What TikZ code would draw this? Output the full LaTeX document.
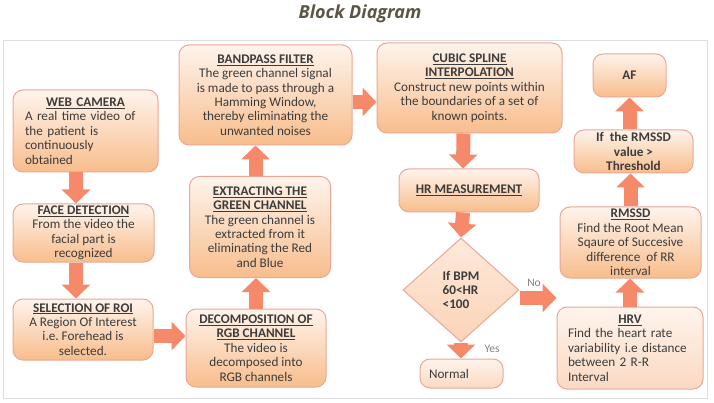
\documentclass[tikz,border=0pt]{standalone}
\usepackage{fontspec}
\setmainfont{Carlito}
\newfontfamily\titlefont{Open Sans}
\usetikzlibrary{shapes.geometric,arrows.meta}
\setlength{\parindent}{0pt}
\frenchspacing

\definecolor{boxtop}{HTML}{FEF4EC}
\definecolor{boxbot}{HTML}{F8BD8C}
\definecolor{palebot}{HTML}{FBD9C2}
\definecolor{boxline}{HTML}{EBA796}
\definecolor{flowc}{HTML}{F7896B}
\definecolor{txt}{HTML}{3C3C3C}
\definecolor{titlec}{HTML}{5C5545}
\definecolor{panelc}{HTML}{DEDEDE}
\newcommand{\blockhead}[1]{\underline{\textbf{#1}}}

\begin{document}
\begin{tikzpicture}[x=1pt,y=-1pt,
  block/.style={draw=boxline,line width=1pt,rounded corners=10pt,top color=boxtop,bottom color=boxbot,
    text=txt,align=center,inner sep=0pt,font=\fontsize{13.2}{14.4}\selectfont},
  paleblock/.style={block,bottom color=palebot},
  flow/.style={draw=flowc,line width=14pt,-{Triangle[width=28pt,length=14pt]}},
  note/.style={text=gray,font=\fontsize{11.5}{13}\selectfont}]
  \useasboundingbox (0,0) rectangle (714,403);
  \draw[panelc,line width=1pt] (3,41) rectangle (707,398);
  \node[font=\titlefont\bfseries\itshape\fontsize{18}{21}\selectfont,text=titlec] (title) at (360,14) {Block Diagram};

  % left column
  \node[block,minimum width=145pt,minimum height=82pt,text width=121pt,align=left] (webcam) at (85.5,131)
    {\makebox[\hsize]{\blockhead{WEB CAMERA}}\\A real time video of\\the patient is\\continuously\\obtained};
  \node[block,minimum width=141pt,minimum height=58pt] (face) at (83.5,233)
    {\blockhead{FACE DETECTION}\\From the video the\\facial part is\\recognized};
  \node[block,minimum width=140pt,minimum height=61pt] (roi) at (83,329.5)
    {\blockhead{SELECTION OF ROI}\\A Region Of Interest\\i.e. Forehead is\\selected.};

  % second column
  \node[block,minimum width=140pt,minimum height=78pt] (decomp) at (256,348)
    {\blockhead{DECOMPOSITION OF}\\\blockhead{RGB CHANNEL}\\The video is\\decomposed into\\RGB channels};
  \node[block,minimum width=141pt,minimum height=101pt] (extract) at (260,227)
    {\blockhead{EXTRACTING THE}\\\blockhead{GREEN CHANNEL}\\The green channel is\\extracted from it\\eliminating the Red\\and Blue};
  \node[block,minimum width=173pt,minimum height=100pt] (bandpass) at (265.5,95)
    {\blockhead{BANDPASS FILTER}\\The green channel signal\\is made to pass through a\\Hamming Window,\\thereby eliminating the\\unwanted noises};

  % third column
  \node[block,minimum width=185pt,minimum height=90pt] (cubic) at (469.5,88)
    {\blockhead{CUBIC SPLINE}\\\blockhead{INTERPOLATION}\\Construct new points within\\the boundaries of a set of\\known points.};
  \node[block,minimum width=140pt,minimum height=43pt] (hrmeas) at (469,190.5) {\blockhead{HR MEASUREMENT}};
  \node[diamond,draw=boxline,line width=1pt,top color=boxtop!60!palebot,bottom color=palebot!80!boxbot,
    text=txt,minimum width=116pt,minimum height=104pt,inner sep=0pt,align=left,
    font=\fontsize{13.2}{14.4}\selectfont\bfseries] (bpm) at (461,290) {If BPM\\60<HR\\<100};
  \node[paleblock,minimum width=83pt,minimum height=29pt,text width=65pt,align=left] (normal) at (461.5,373.5) {Normal};

  % right column
  \node[paleblock,minimum width=146pt,minimum height=82pt,text width=124pt,align=left] (hrv) at (630,348)
    {\makebox[\hsize]{\blockhead{HRV}}\\Find the heart rate\\variability i.e distance\\between 2 R-R\\Interval};
  \node[block,minimum width=141pt,minimum height=71pt] (rmssd) at (630.5,242.5)
    {\blockhead{RMSSD}\\Find the Root Mean\\Sqaure of Succesive\\difference\ \ of RR\\interval};
  \node[block,minimum width=119pt,minimum height=43pt,font=\fontsize{13.2}{14.4}\selectfont\bfseries] (thresh) at (633.5,151.5)
    {If\ \ the RMSSD\\value >\\Threshold};
  \node[block,minimum width=73pt,minimum height=43pt] (af) at (629.5,75.5) {\textbf{AF}};

  \node[note] (yes) at (492,349) {Yes};
  \node[note] (no) at (534,283) {No};

  % arrows
  \draw[flow] ([xshift=-9.5pt]webcam.south) -- ([xshift=-7.5pt]face.north);
  \draw[flow] ([xshift=-7.5pt]face.south) -- ([xshift=-7pt]roi.north);
  \draw[flow] ([yshift=-6.5pt]roi.east) -- ([yshift=12pt]decomp.west);
  \draw[flow] (decomp.north) -- (decomp.north |- extract.south);
  \draw[flow] ([xshift=-4.5pt]extract.north) -- ([xshift=-4.5pt]extract.north |- bandpass.south);
  \draw[flow] ([yshift=-7pt]bandpass.east) -- ([yshift=-14pt]cubic.west);
  \draw[flow] ([xshift=-6pt]cubic.south) -- ([xshift=-6pt]hrmeas.north);
  \draw[flow] ([xshift=-6pt]hrmeas.south) -- (bpm.north);
  \draw[flow] (bpm.south) -- (bpm.south |- normal.north);
  \draw[flow] ([yshift=-8pt]bpm.east) -- ([yshift=-8pt]bpm.east -| hrv.west);
  \draw[flow] (hrv.north) -- (hrv.north |- rmssd.south);
  \draw[flow] (rmssd.north) -- (rmssd.north |- thresh.south);
  \draw[flow] (af.south |- thresh.north) -- (af.south);
\end{tikzpicture}
\end{document}
